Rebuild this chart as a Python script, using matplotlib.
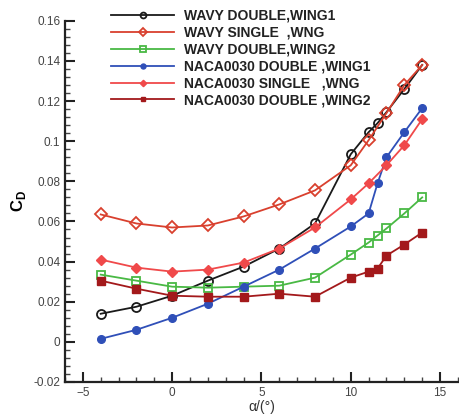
import numpy as np
import matplotlib
matplotlib.use('Agg')
import matplotlib.pyplot as plt
from matplotlib.ticker import MultipleLocator, FuncFormatter

plt.rcParams['font.family'] = ['Liberation Sans', 'DejaVu Sans']

# angle of attack
alpha_full = [-4, -2, 0, 2, 4, 6, 8, 10, 11, 11.5, 12, 13, 14]
alpha_wavy_single = [-4, -2, 0, 2, 4, 6, 8, 10, 11, 12, 13, 14]
alpha_naca_single = [-4, -2, 0, 2, 4, 6, 8, 10, 11, 12, 13, 14]

# drag coefficient
cd_wavy_double_w1 = [0.014, 0.0175, 0.023, 0.0305, 0.0375, 0.0465, 0.059, 0.0935, 0.1045, 0.109, 0.1145, 0.126, 0.138]
cd_wavy_single = [0.0635, 0.059, 0.057, 0.058, 0.0625, 0.0685, 0.0755, 0.088, 0.1005, 0.114, 0.128, 0.138]
cd_wavy_double_w2 = [0.0335, 0.0305, 0.0275, 0.027, 0.0275, 0.028, 0.032, 0.0435, 0.0495, 0.053, 0.0565, 0.064, 0.072]
cd_naca_double_w1 = [0.0015, 0.006, 0.012, 0.019, 0.0275, 0.036, 0.0465, 0.0575, 0.064, 0.079, 0.092, 0.1045, 0.1165]
cd_naca_single = [0.041, 0.037, 0.035, 0.036, 0.0395, 0.0465, 0.057, 0.071, 0.079, 0.088, 0.098, 0.111]
cd_naca_double_w2 = [0.0305, 0.0265, 0.023, 0.0225, 0.0225, 0.024, 0.0225, 0.032, 0.035, 0.0365, 0.043, 0.0485, 0.0545]

labels = ['WAVY DOUBLE,WING1', 'WAVY SINGLE  ,WNG', 'WAVY DOUBLE,WING2',
          'NACA0030 DOUBLE ,WING1', 'NACA0030 SINGLE   ,WNG', 'NACA0030 DOUBLE ,WING2']

fig = plt.figure(figsize=(4.59, 4.17), dpi=100)
ax = fig.add_axes([0.1416, 0.084, 0.856, 0.866])

ax.plot(alpha_full, cd_wavy_double_w1, color='#1a1a1a', lw=1.3, marker='o', ms=6.5,
        mfc='none', mew=1.3, label=labels[0])
ax.plot(alpha_wavy_single, cd_wavy_single, color='#d9402e', lw=1.3, marker='D', ms=6,
        mfc='none', mew=1.3, label=labels[1])
ax.plot(alpha_full, cd_wavy_double_w2, color='#49b944', lw=1.3, marker='s', ms=6,
        mfc='none', mew=1.3, label=labels[2])
ax.plot(alpha_full, cd_naca_double_w1, color='#2f4fb8', lw=1.3, marker='o', ms=5.5,
        label=labels[3])
ax.plot(alpha_naca_single, cd_naca_single, color='#f0494a', lw=1.3, marker='D', ms=5,
        label=labels[4])
ax.plot(alpha_full, cd_naca_double_w2, color='#a3191b', lw=1.3, marker='s', ms=5.5,
        label=labels[5])

ax.set_xlim(-6, 16)
ax.set_ylim(-0.02, 0.16)
ax.xaxis.set_major_locator(MultipleLocator(5))
ax.xaxis.set_minor_locator(MultipleLocator(1))
ax.yaxis.set_major_locator(MultipleLocator(0.02))
ax.yaxis.set_minor_locator(MultipleLocator(0.004))
ax.yaxis.set_major_formatter(FuncFormatter(lambda v, p: ('%g' % round(v, 3))))

for s in ['top', 'right']:
    ax.spines[s].set_visible(False)
for s in ['left', 'bottom']:
    ax.spines[s].set_linewidth(1.6)
    ax.spines[s].set_color('#222222')

ax.tick_params(which='major', direction='in', length=7, width=1.5, colors='#222222',
               labelsize=8.5, labelcolor='#444444')
ax.tick_params(which='minor', direction='in', length=3.5, width=1, colors='#444444')

ax.set_xlabel(u'\u03b1/(\u00b0)', fontsize=10, color='#333333', labelpad=1)
ax.set_ylabel('C$_\\mathregular{D}$', fontsize=12, fontweight='bold', labelpad=4)

leg = ax.legend(loc='upper left', bbox_to_anchor=(0.2215, 1.0 + 1.0 / 417), bbox_transform=fig.transFigure,
                frameon=False, fontsize=10, handlelength=4.5, handletextpad=0.75,
                labelspacing=0.21, borderpad=0.2, markerscale=0.65)
for t in leg.get_texts():
    t.set_fontweight('bold')
    t.set_color('#222222')

fig.savefig('out.png', dpi=100)
